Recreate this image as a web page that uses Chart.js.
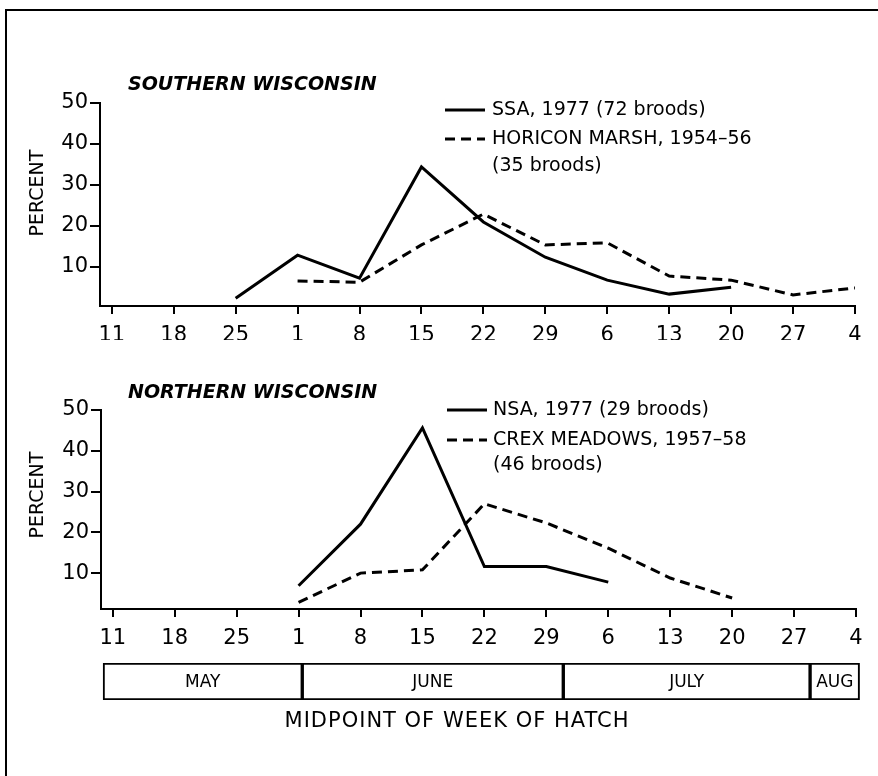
<!DOCTYPE html>
<html><head><meta charset="utf-8">
<script src="https://cdn.jsdelivr.net/npm/chart.js@4.4.1/dist/chart.umd.min.js"></script>
<style>
html,body{margin:0;padding:0;background:#fff;width:878px;height:776px;overflow:hidden;}
#frame{position:absolute;left:5px;top:9px;width:900px;height:800px;border-left:2px solid #000;border-top:2px solid #000;}
.box{position:absolute;left:0;width:878px;}
#b1{top:40px;height:300px;}
#b2{top:350px;height:300px;}
#b3{top:650px;height:110px;}
</style></head><body>
<div id="frame"></div>
<div class="box" id="b1"><canvas id="c1"></canvas></div>
<div class="box" id="b2"><canvas id="c2"></canvas></div>
<div class="box" id="b3"><canvas id="c3"></canvas></div>
<script>
// ---- data ----
const weekLabels = ['11','18','25','1','8','15','22','29','6','13','20','27','4'];
const yTickValues = [10,20,30,40,50];
const ssa1977     = [null,null,2.4,12.9,7.3,34.4,21.0,12.4,6.8,3.4,5.1,null,null];
const horicon     = [null,null,null,6.6,6.3,15.4,22.9,15.4,15.9,7.8,6.8,3.2,4.9];
const nsa1977     = [null,null,null,6.9,22.0,45.6,11.6,11.6,7.8,null,null,null,null];
const crex        = [null,null,null,2.8,10.0,10.8,27.0,22.3,16.1,8.8,3.9,null,null];
const monthNames  = ['MAY','JUNE','JULY','AUG'];
const monthStart  = [-0.15,3.07,7.29,11.28];   // in week-index units
const monthEnd    = [3.07,7.29,11.28,12.08];

const FONT = "'DejaVu Sans', sans-serif";
Chart.defaults.font.family = FONT;
Chart.defaults.color = '#000';

const panelText = {
  id: 'panelText',
  afterDraw(chart, args, o) {
    const ctx = chart.ctx;
    ctx.save();
    ctx.fillStyle = '#000';
    ctx.textBaseline = 'middle';
    ctx.textAlign = 'left';
    ctx.font = 'italic bold 19px ' + FONT;
    ctx.fillText(o.title, o.titleX, o.titleY);
    ctx.save();
    ctx.font = '19px ' + FONT;
    ctx.translate(o.percentX, o.percentY);
    ctx.rotate(-Math.PI / 2);
    ctx.textAlign = 'center';
    ctx.fillText('PERCENT', 0, 0);
    ctx.restore();
    let y = o.legendY;
    chart.data.datasets.forEach((ds) => {
      ctx.beginPath();
      ctx.setLineDash(ds.borderDash || []);
      ctx.lineWidth = ds.borderWidth;
      ctx.strokeStyle = ds.borderColor;
      ctx.moveTo(o.legendX, y);
      ctx.lineTo(o.legendX + o.sampleW, y);
      ctx.stroke();
      ctx.setLineDash([]);
      ctx.font = '19px ' + FONT;
      const lines = ds.label.split('\n');
      lines.forEach((t, k) => ctx.fillText(t, o.legendX + o.sampleW + o.gap, y + k * o.subRowH));
      y += o.rowH + (lines.length - 1) * o.subRowH;
    });
    ctx.restore();
  }
};

function toPoints(arr) {
  return arr.map((v, i) => ({x: i, y: v}));
}

function makePanel(id, sets, p) {
  return new Chart(document.getElementById(id), {
    type: 'line',
    data: {
      datasets: sets.map(s => ({
        label: s.label,
        data: toPoints(s.values),
        borderColor: '#000',
        borderWidth: 3,
        borderDash: s.dash,
        pointRadius: 0,
        tension: 0,
        fill: false,
        spanGaps: false,
        borderJoinStyle: 'miter'
      }))
    },
    options: {
      responsive: true,
      maintainAspectRatio: false,
      animation: false,
      devicePixelRatio: 1,
      layout: {padding: {top: p.top, left: 0, right: p.right, bottom: 0}},
      plugins: {
        legend: {display: false},
        tooltip: {enabled: false},
        panelText: p.text
      },
      scales: {
        x: {
          type: 'linear',
          min: -0.19,
          max: 12,
          afterBuildTicks: (s) => { s.ticks = weekLabels.map((_, i) => ({value: i})); },
          afterFit: (s) => { s.height = p.xHeight; },
          ticks: {
            callback: (v) => weekLabels[v],
            font: {size: 21},
            color: '#000',
            padding: p.xPad,
            maxRotation: 0,
            autoSkip: false
          },
          grid: {display: true, drawOnChartArea: false, drawTicks: true, tickLength: 8, color: '#000', lineWidth: 2},
          border: {display: true, color: '#000', width: 2}
        },
        y: {
          type: 'linear',
          min: p.yMin,
          max: 50,
          afterBuildTicks: (s) => { s.ticks = yTickValues.map(v => ({value: v})); },
          afterFit: (s) => { s.width = p.yWidth; },
          ticks: {font: {size: 21}, color: '#000', padding: 2},
          grid: {display: true, drawOnChartArea: false, drawTicks: true, tickLength: 10, color: '#000', lineWidth: 2},
          border: {display: true, color: '#000', width: 2}
        }
      }
    },
    plugins: [panelText]
  });
}

makePanel('c1', [
  {label: 'SSA, 1977 (72 broods)', values: ssa1977, dash: []},
  {label: 'HORICON MARSH, 1954\u201356\n(35 broods)', values: horicon, dash: [10, 6]}
], {
  top: 63, right: 23, xHeight: 34, xPad: 9, yWidth: 100, yMin: 0.5,
  text: {title: 'SOUTHERN WISCONSIN', titleX: 128, titleY: 45, percentX: 38, percentY: 153,
         legendX: 445, legendY: 70, sampleW: 40, gap: 7, rowH: 29, subRowH: 27}
});

makePanel('c2', [
  {label: 'NSA, 1977 (29 broods)', values: nsa1977, dash: []},
  {label: 'CREX MEADOWS, 1957\u201358\n(46 broods)', values: crex, dash: [10, 6]}
], {
  top: 60, right: 22, xHeight: 41, xPad: 9, yWidth: 101, yMin: 1.2,
  text: {title: 'NORTHERN WISCONSIN', titleX: 128, titleY: 43, percentX: 38, percentY: 145,
         legendX: 447, legendY: 60, sampleW: 40, gap: 6, rowH: 30, subRowH: 25}
});

const monthText = {
  id: 'monthText',
  afterDatasetsDraw(chart, args, o) {
    const ctx = chart.ctx;
    ctx.save();
    ctx.fillStyle = '#000';
    ctx.textAlign = 'center';
    ctx.textBaseline = 'middle';
    ctx.font = '17px ' + FONT;
    chart.getDatasetMeta(0).data.forEach((el, i) => {
      const pr = el.getProps(['x', 'base', 'y']);
      ctx.fillText(monthNames[i], (pr.x + pr.base) / 2, pr.y + 1);
    });
    ctx.font = '21px ' + FONT;
    ctx.letterSpacing = '1px';
    ctx.fillText(o.axisTitle, o.x, o.y);
    ctx.restore();
  }
};

new Chart(document.getElementById('c3'), {
  type: 'bar',
  data: {
    labels: ['row'],
    datasets: [{
      data: monthNames.map((m, i) => ({x: [monthStart[i], monthEnd[i]], y: 'row'})),
      backgroundColor: '#fff',
      borderColor: '#000',
      borderWidth: 2,
      borderSkipped: false,
      barPercentage: 1,
      categoryPercentage: 1
    }]
  },
  options: {
    indexAxis: 'y',
    responsive: true,
    maintainAspectRatio: false,
    animation: false,
    devicePixelRatio: 1,
    layout: {padding: {top: 13, bottom: 60, left: 100, right: 11}},
    plugins: {
      legend: {display: false},
      tooltip: {enabled: false},
      monthText: {axisTitle: 'MIDPOINT OF WEEK OF HATCH', x: 457, y: 72}
    },
    scales: {
      x: {type: 'linear', min: -0.2, max: 12.2, display: false},
      y: {type: 'category', display: false}
    }
  },
  plugins: [monthText]
});
</script>
</body></html>
